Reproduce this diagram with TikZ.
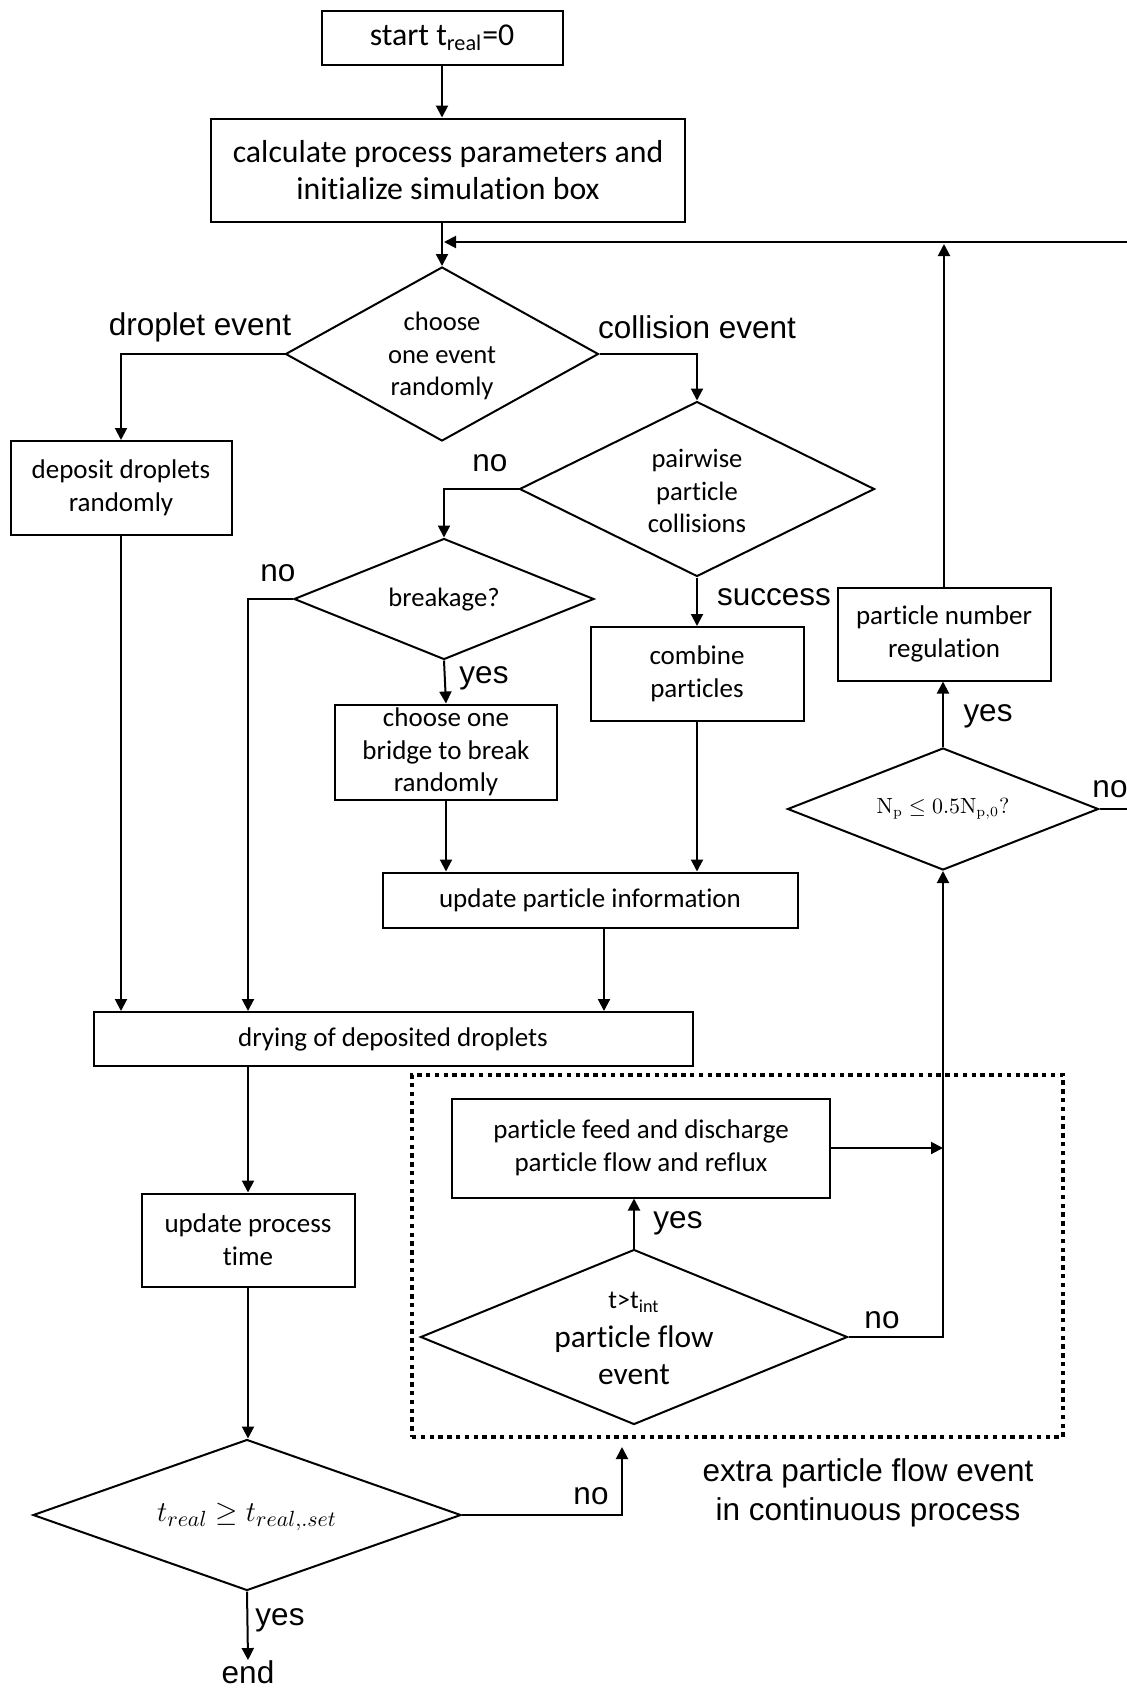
\documentclass[tikz,border=0pt]{standalone}
\usepackage{amsmath}
\usepackage[no-math]{fontspec}
\setmainfont{Carlito}[Ligatures={NoCommon,NoContextual}]
\newfontfamily\arialf{Liberation Sans}
\usetikzlibrary{arrows.meta,shapes.geometric,calc}
\tikzset{
 box/.style={draw, line width=1pt, rectangle, inner sep=0pt, align=center, font=\fontsize{13.5}{16.3}\selectfont},
 bigbox/.style={box, font=\fontsize{15.9}{18.8}\selectfont},
 dia/.style={draw, line width=1pt, diamond, inner sep=0pt},
 dtext/.style={align=center, inner sep=0pt, font=\fontsize{13.3}{16.4}\selectfont},
 lab/.style={inner sep=0pt, align=center, font=\arialf\fontsize{15.75}{19.4}\selectfont},
 arr/.style={line width=1pt, -{Triangle[length=6pt,width=6pt]}},
 conn/.style={line width=1pt},
 dotbox/.style={draw, line width=1.7pt, dash pattern=on 2.2pt off 2.2pt, rectangle, inner sep=0pt},
}
\begin{document}
\begin{tikzpicture}[x=0.5pt,y=-0.5pt]
\useasboundingbox (0,0) rectangle (1127,1688);

% boxes
\node[bigbox, minimum width=120.5pt, minimum height=27pt] (start) at (442,38) {start t$_{\text{real}}$=0};
\node[bigbox, minimum width=237pt, minimum height=51.5pt] (calc) at (448,170) {calculate process parameters and\\initialize simulation box};
\node[dia, minimum width=156.5pt, minimum height=87pt] (d1) at (442,354) {};
\node[dtext] (d1t) at (442,356) {choose\\one event\\randomly};
\node[box, minimum width=110.5pt, minimum height=47pt] (dep) at (121,488) {deposit droplets\\randomly};
\node[dia, minimum width=177.5pt, minimum height=87.5pt] (d2) at (697,489) {};
\node[dtext] (d2t) at (697,491) {pairwise\\particle\\collisions};
\node[dia, minimum width=150pt, minimum height=60.5pt] (brk) at (444,599) {};
\node[dtext] (brkt) at (444,600) {breakage?};
\node[box, minimum width=111pt, minimum height=47.5pt] (brg) at (446,752) {choose one\\bridge to break\\randomly};
\node[box, minimum width=106.5pt, minimum height=47pt] (comb) at (697,674) {combine\\particles};
\node[box, minimum width=106.5pt, minimum height=46.5pt] (pnr) at (944,634) {particle number\\regulation};
\node[dia, minimum width=155.5pt, minimum height=61pt] (npd) at (943,809) {};
\node[inner sep=0pt, font=\fontsize{10.5}{12}\selectfont] (npdt) at (943,809) {$\mathrm{N_p \leq 0.5N_{p,0}?}$};
\node[box, minimum width=207.5pt, minimum height=27.5pt] (upi) at (590,900) {update particle information};
\node[box, minimum width=299.5pt, minimum height=27pt] (dry) at (393,1039) {drying of deposited droplets};
\node[box, minimum width=106.5pt, minimum height=46.5pt] (upt) at (248,1240) {update process\\time};
\node[dia, minimum width=214pt, minimum height=75.5pt] (tr) at (247,1515) {};
\node[inner sep=0pt, font=\fontsize{15.3}{18}\selectfont] (trt) at (247,1517) {$t_{real} \geq t_{real,.set}$};

% dotted region
\node[dotbox, minimum width=325.5pt, minimum height=181pt] (xbox) at (737.5,1256) {};
\node[box, minimum width=189pt, minimum height=49.5pt] (feed) at (641,1148) {particle feed and discharge\\particle flow and reflux};
\node[dia, minimum width=213.5pt, minimum height=87.5pt] (pfd) at (634,1337) {};
\node[inner sep=0pt, font=\fontsize{13}{15}\selectfont] (pfdt1) at (634,1302) {t>t$_{\text{int}}$};
\node[align=center, inner sep=0pt, font=\fontsize{15.7}{18.5}\selectfont] (pfdt2) at (634,1355) {particle flow\\event};

% labels
\node[lab] (l1) at (200,327) {droplet event};
\node[lab] (l2) at (697,327) {collision event};
\node[lab] (l3) at (490,463) {no};
\node[lab] (l4) at (278,573) {no};
\node[lab] (l5) at (484,678) {yes};
\node[lab] (l6) at (774,597) {success};
\node[lab] (l7) at (988,716) {yes};
\node[lab] (l8) at (1110,789) {no};
\node[lab] (l9) at (678,1223) {yes};
\node[lab] (l10) at (882,1320) {no};
\node[lab] (l11) at (591,1496) {no};
\node[lab] (l12) at (280,1620) {yes};
\node[lab] (endn) at (248,1672) {end};
\node[lab] (l13) at (868,1493) {extra particle flow event\\in continuous process};

% coordinates
\coordinate (loopR) at (1132,242);
\coordinate (noTip) at (622,1447);

% connectors
\draw[arr] (start.south) -- (start.south |- calc.north);
\draw[arr] (calc.south -| d1.north) -- (d1.north);
\draw[arr, shorten >=1pt] (npd.east) -| (loopR) -- (d1.north |- loopR);
\draw[arr, shorten >=1pt] (pnr.north) -- (pnr.north |- loopR);
\draw[arr] (d1.west) -| (dep.north);
\draw[arr] (d1.east) -| (d2.north);
\draw[arr] (d2.west) -| (brk.north);
\draw[arr] (brk.west) -| (dry.north -| upt.north);
\draw[arr] (brk.south) -- (brg.north);
\draw[arr] (brg.south) -- (brg.south |- upi.north);
\draw[arr] (d2.south) -- (comb.north);
\draw[arr] (comb.south) -- (comb.south |- upi.north);
\draw[arr] ([xshift=7pt]upi.south) -- ([xshift=7pt]upi.south |- dry.north);
\draw[arr] (dep.south) -- (dep.south |- dry.north);
\draw[arr] (dry.south -| upt.north) -- (upt.north);
\draw[arr] (upt.south) -- (upt.south |- tr.north);
\draw[arr] (tr.south) -- (endn.north);
\draw[arr] (tr.east) -| (noTip);
\draw[arr] (pfd.north) -- (pfd.north |- feed.south);
\draw[arr] (feed.east) -- (feed.east -| npd.south);
\draw[arr] (pfd.east) -| (npd.south);
\draw[arr] (npd.north) -- (npd.north |- pnr.south);
\end{tikzpicture}
\end{document}
